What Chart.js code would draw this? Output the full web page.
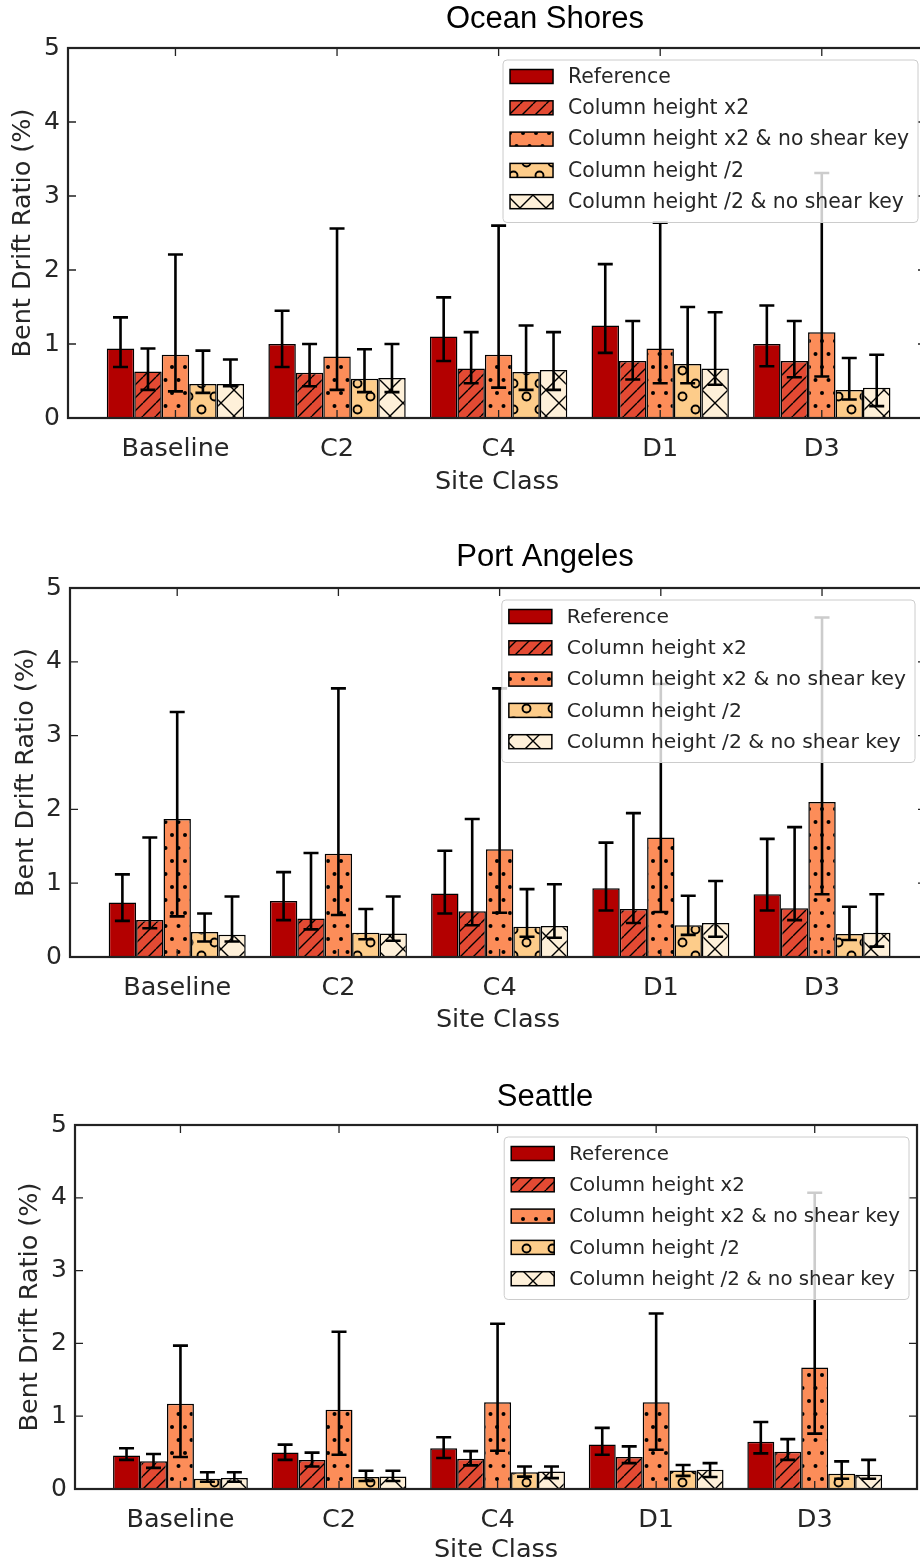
<!DOCTYPE html>
<html>
<head>
<meta charset="utf-8">
<script src="https://cdn.jsdelivr.net/npm/chart.js@4.4.1/dist/chart.umd.min.js"></script>
<style>
  html, body { margin: 0; padding: 0; background: #fff; }
  body { width: 920px; height: 1564px; overflow: hidden; position: relative; }
  .panel { position: absolute; left: 0; }
</style>
</head>
<body>
<div class="panel" style="top:0px"><canvas id="c1" width="930" height="520"></canvas></div>
<div class="panel" style="top:520px"><canvas id="c2" width="930" height="540"></canvas></div>
<div class="panel" style="top:1060px"><canvas id="c3" width="920" height="508"></canvas></div>
<script>
// data
const siteClasses = ["Baseline", "C2", "C4", "D1", "D3"];
const seriesNames = [
  "Reference",
  "Column height x2",
  "Column height x2 & no shear key",
  "Column height /2",
  "Column height /2 & no shear key"
];
const yTicks = [0, 1, 2, 3, 4, 5];

// rows = series, columns = site classes
const oceanShoresBars = [
  [0.94, 1.00, 1.10, 1.25, 1.00],
  [0.63, 0.61, 0.67, 0.77, 0.77],
  [0.855, 0.83, 0.855, 0.94, 1.16],
  [0.46, 0.53, 0.62, 0.73, 0.38],
  [0.46, 0.54, 0.65, 0.67, 0.41]
];
const oceanShoresUpper = [
  [1.36, 1.45, 1.63, 2.08, 1.52],
  [0.94, 1.00, 1.16, 1.31, 1.31],
  [2.21, 2.56, 2.60, 2.64, 3.31],
  [0.91, 0.93, 1.25, 1.50, 0.81],
  [0.79, 1.00, 1.16, 1.43, 0.855]
];
const oceanShoresLower = [
  [0.69, 0.69, 0.77, 0.88, 0.70],
  [0.38, 0.43, 0.47, 0.52, 0.55],
  [0.36, 0.38, 0.41, 0.47, 0.56],
  [0.34, 0.35, 0.38, 0.47, 0.25],
  [0.43, 0.35, 0.38, 0.45, 0.16]
];

const portAngelesBars = [
  [0.74, 0.76, 0.86, 0.93, 0.85],
  [0.50, 0.52, 0.62, 0.65, 0.66],
  [1.87, 1.40, 1.46, 1.62, 2.10],
  [0.34, 0.33, 0.41, 0.43, 0.31],
  [0.30, 0.32, 0.42, 0.46, 0.33]
];
const portAngelesUpper = [
  [1.12, 1.15, 1.44, 1.55, 1.60],
  [1.62, 1.41, 1.87, 1.95, 1.76],
  [3.32, 3.64, 3.64, 3.70, 4.60],
  [0.59, 0.65, 0.92, 0.83, 0.68],
  [0.82, 0.82, 0.985, 1.03, 0.85]
];
const portAngelesLower = [
  [0.49, 0.50, 0.59, 0.63, 0.63],
  [0.39, 0.375, 0.43, 0.46, 0.50],
  [0.55, 0.57, 0.60, 0.61, 0.85],
  [0.21, 0.24, 0.275, 0.30, 0.23],
  [0.21, 0.22, 0.26, 0.275, 0.14]
];

const seattleBars = [
  [0.46, 0.50, 0.56, 0.61, 0.65],
  [0.38, 0.40, 0.415, 0.44, 0.51],
  [1.17, 1.09, 1.19, 1.19, 1.67],
  [0.14, 0.165, 0.23, 0.255, 0.21],
  [0.15, 0.17, 0.24, 0.265, 0.195]
];
const seattleUpper = [
  [0.56, 0.61, 0.71, 0.84, 0.92],
  [0.48, 0.50, 0.52, 0.585, 0.685],
  [1.97, 2.16, 2.27, 2.41, 4.07],
  [0.23, 0.25, 0.31, 0.33, 0.38],
  [0.23, 0.25, 0.31, 0.355, 0.40]
];
const seattleLower = [
  [0.40, 0.40, 0.425, 0.47, 0.49],
  [0.29, 0.31, 0.325, 0.355, 0.40],
  [0.44, 0.47, 0.525, 0.54, 0.76],
  [0.10, 0.11, 0.17, 0.18, 0.14],
  [0.10, 0.11, 0.15, 0.165, 0.14]
];

// OrRd colours + hatches like the matplotlib original
const fills = ["#b30000", "#e34a33", "#fc8d59", "#fdcc8a", "#fef0d9"];
const hatches = ["none", "slash", "dots", "circles", "cross"];

Chart.defaults.font.family = "'DejaVu Sans', sans-serif";
Chart.defaults.color = "#262626";

function makeHatch(color, kind) {
  if (kind === "none") return color;
  const c = document.createElement("canvas");
  const s = kind === "slash" ? 13 : 26;
  c.width = s; c.height = s;
  const g = c.getContext("2d");
  g.fillStyle = color;
  g.fillRect(0, 0, s, s);
  g.strokeStyle = "#000";
  g.fillStyle = "#000";
  g.lineWidth = 1.4;
  if (kind === "slash" || kind === "cross") {
    g.beginPath();
    for (let k = -1; k <= 1; k++) {
      g.moveTo(k * s, s); g.lineTo(k * s + s, 0);
      if (kind === "cross") { g.moveTo(k * s, 0); g.lineTo(k * s + s, s); }
    }
    g.stroke();
  } else if (kind === "dots") {
    [[3, 3], [16, 3], [9.5, 16], [22.5, 16]].forEach(p => {
      g.beginPath(); g.arc(p[0], p[1], 2, 0, Math.PI * 2); g.fill();
    });
  } else if (kind === "circles") {
    g.lineWidth = 1.9;
    [[6.5, 6.5], [19.5, 19.5]].forEach(p => {
      g.beginPath(); g.arc(p[0], p[1], 4, 0, Math.PI * 2); g.stroke();
    });
  }
  return g.createPattern(c, "repeat");
}

const framePlugin = {
  id: "frame",
  afterDatasetsDraw(chart) {
    const { ctx, chartArea: a, scales: { x, y } } = chart;
    ctx.save();
    ctx.strokeStyle = "#222";
    ctx.lineWidth = 1.3;
    ctx.beginPath();
    y.ticks.forEach(t => {
      const py = y.getPixelForValue(t.value);
      ctx.moveTo(a.left, py); ctx.lineTo(a.left + 8, py);
      ctx.moveTo(a.right, py); ctx.lineTo(a.right - 8, py);
    });
    x.ticks.forEach(t => {
      const px = x.getPixelForValue(t.value);
      ctx.moveTo(px, a.top); ctx.lineTo(px, a.top + 8);
      ctx.moveTo(px, a.bottom); ctx.lineTo(px, a.bottom - 8);
    });
    ctx.stroke();
    ctx.lineWidth = 2.2;
    ctx.strokeRect(a.left, a.top, a.right - a.left, a.bottom - a.top);

    // error bars
    ctx.strokeStyle = "#000";
    ctx.lineWidth = 2.6;
    chart.data.datasets.forEach((ds, i) => {
      chart.getDatasetMeta(i).data.forEach((bar, j) => {
        const top = y.getPixelForValue(ds.upper[j]);
        const bot = y.getPixelForValue(ds.lower[j]);
        ctx.beginPath();
        ctx.moveTo(bar.x, top); ctx.lineTo(bar.x, bot);
        ctx.moveTo(bar.x - 7.5, top); ctx.lineTo(bar.x + 7.5, top);
        ctx.moveTo(bar.x - 7.5, bot); ctx.lineTo(bar.x + 7.5, bot);
        ctx.stroke();
      });
    });
    ctx.restore();
  },
  afterDraw(chart, args, opts) {
    const { ctx, chartArea: a } = chart;
    ctx.save();
    // title
    ctx.font = "31px 'Liberation Sans', Arial, sans-serif";
    ctx.fillStyle = "#000";
    ctx.textAlign = "center";
    ctx.textBaseline = "middle";
    ctx.fillText(opts.title, 545, opts.titleY);

    // legend on top of everything
    const sets = chart.data.datasets;
    ctx.font = opts.legendFont + "px 'DejaVu Sans', sans-serif";
    const tw = Math.max(...sets.map(d => ctx.measureText(d.label).width));
    const rowH = 31.3;
    const w = 7 + 43 + 15 + tw + 9;
    const h = sets.length * rowH + 6;
    const bx = a.right - opts.legendInset - w;
    const by = a.top + 12;
    ctx.beginPath();
    ctx.roundRect(bx, by, w, h, 4);
    ctx.fillStyle = "rgba(255,255,255,0.8)";
    ctx.fill();
    ctx.strokeStyle = "#cccccc";
    ctx.lineWidth = 1;
    ctx.stroke();
    sets.forEach((d, i) => {
      const cy = by + 16.5 + i * rowH;
      ctx.fillStyle = d.backgroundColor;
      ctx.fillRect(bx + 7, cy - 7, 43, 14);
      ctx.strokeStyle = "#000";
      ctx.lineWidth = 1.5;
      ctx.strokeRect(bx + 7, cy - 7, 43, 14);
      ctx.fillStyle = "#262626";
      ctx.textAlign = "left";
      ctx.textBaseline = "middle";
      ctx.fillText(d.label, bx + 65, cy + 1);
    });
    ctx.restore();
  }
};

function makeChart(id, title, bars, upper, lower, box) {
  const ctx = document.getElementById(id).getContext("2d");
  const datasets = seriesNames.map((name, i) => ({
    label: name,
    data: bars[i].map((v, j) => ({ x: j, y: v })),
    upper: upper[i],
    lower: lower[i],
    backgroundColor: makeHatch(fills[i], hatches[i]),
    borderColor: "#000",
    borderWidth: 1.5,
    categoryPercentage: 0.85,
    barPercentage: 1.0
  }));
  return new Chart(ctx, {
    type: "bar",
    data: { datasets: datasets },
    plugins: [framePlugin],
    options: {
      responsive: false,
      animation: false,
      layout: { padding: { left: box.padL, right: box.padR, top: box.padT, bottom: box.padB } },
      plugins: {
        legend: { display: false },
        tooltip: { enabled: false },
        frame: { title: title, titleY: box.titleY, legendInset: box.legendInset, legendFont: box.legendFont }
      },
      scales: {
        x: {
          type: "linear",
          min: -0.665,
          max: 4.645,
          offset: false,
          grid: { display: false, drawTicks: false },
          border: { display: false },
          afterBuildTicks: s => { s.ticks = siteClasses.map((_, i) => ({ value: i })); },
          afterFit: s => { s.height = box.xh; },
          ticks: {
            autoSkip: false,
            maxRotation: 0,
            padding: 16,
            font: { size: 25.5 },
            callback: v => siteClasses[v]
          },
          title: { display: true, text: "Site Class", font: { size: 25.5 }, padding: 0 }
        },
        y: {
          min: 0,
          max: 5,
          grid: { display: false, drawTicks: false },
          border: { display: false },
          afterBuildTicks: s => { s.ticks = yTicks.map(v => ({ value: v })); },
          afterFit: s => { s.width = box.yW; },
          ticks: { padding: 8, font: { size: 25 } },
          title: { display: true, text: "Bent Drift Ratio (%)", font: { size: 25.5 }, padding: 0 }
        }
      }
    }
  });
}

makeChart("c1", "Ocean Shores", oceanShoresBars, oceanShoresUpper, oceanShoresLower,
  { padL: 8, yW: 60, padR: 4, padT: 48, padB: 22.5, xh: 79.5, titleY: 19, legendInset: 8, legendFont: 20.4 });
makeChart("c2", "Port Angeles", portAngelesBars, portAngelesUpper, portAngelesLower,
  { padL: 11, yW: 59, padR: 4, padT: 68, padB: 24, xh: 79, titleY: 37, legendInset: 11, legendFont: 20.3 });
makeChart("c3", "Seattle", seattleBars, seattleUpper, seattleLower,
  { padL: 15, yW: 60, padR: 3, padT: 65, padB: 2, xh: 77, titleY: 37, legendInset: 8, legendFont: 19.8 });
</script>
</body>
</html>
